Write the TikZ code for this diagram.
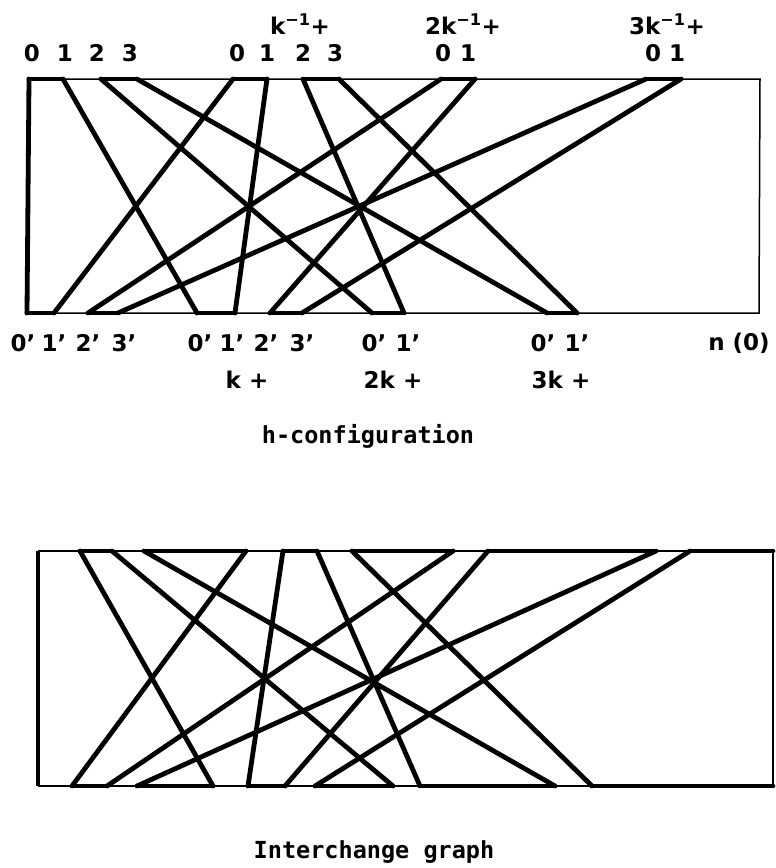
\documentclass[tikz,border=0pt]{standalone}
\usepackage{fontspec}
\setmainfont{DejaVu Sans}
\newfontfamily\capfont{DejaVu Sans Mono}
\begin{document}
\begin{tikzpicture}[x=1pt,y=-1pt,
  frame/.style={line width=1.5pt, line join=miter},
  bar/.style={line width=4.8pt, line cap=round, line join=round},
  lab/.style={font=\bfseries\fontsize{23}{25}\selectfont, inner sep=0pt},
  capt/.style={font=\capfont\bfseries\fontsize{23.5}{26}\selectfont, inner sep=0pt}]
\useasboundingbox (0,0) rectangle (776,868);
% ---------- h-configuration ----------
\foreach \n/\x in {a0/29,a1/63,a2/101,a3/137,b0/233,b1/267,b2/303,b3/339,c0/441,c1/475,d0/646,d1/681}
  \coordinate (T\n) at (\x,79);
\foreach \n/\x in {a0/27,a1/54,a2/88,a3/118,b0/197,b1/235,b2/270,b3/302,c0/372,c1/404,d0/547,d1/577}
  \coordinate (B\n) at (\x,313);
\coordinate (TR) at (760,79);
\coordinate (BR) at (759,313);
\draw[frame] (Ta0) -- (TR) -- (BR) -- (Ba0);
\draw[bar] (Ta0) -- (Ba0);
\foreach \p in {a,b}{
  \draw[bar] (T\p0) -- (T\p1); \draw[bar] (T\p2) -- (T\p3);
  \draw[bar] (B\p0) -- (B\p1); \draw[bar] (B\p2) -- (B\p3);}
\foreach \p in {c,d}{
  \draw[bar] (T\p0) -- (T\p1); \draw[bar] (B\p0) -- (B\p1);}
\foreach \s/\e in {Ta1/Bb0,Ta2/Bc0,Ta3/Bd0,Tb0/Ba1,Tb1/Bb1,Tb2/Bc1,Tb3/Bd1,Tc0/Ba2,Tc1/Bb2,Td0/Ba3,Td1/Bb3}
  \draw[bar] (\s) -- (\e);
% labels
\foreach \n/\x/\t in {la0/32/0,la1/65/1,la2/97/2,la3/130/3,lb0/237/0,lb1/267/1,lb2/303/2,lb3/335/3,lc0/443/0,lc1/468/1,ld0/653/0,ld1/677/1}
  \node[lab] (\n) at (\x,53) {\t};
\node[lab] (kb) at (300,24) {k\textsuperscript{−1}+};
\node[lab] (kc) at (463,24) {2k\textsuperscript{−1}+};
\node[lab] (kd) at (667,24) {3k\textsuperscript{−1}+};
\foreach \n/\x/\t in {ma0/23/0,ma1/54/1,ma2/88/2,ma3/124/3,mb0/200/0,mb1/232/1,mb2/266/2,mb3/302/3,mc0/374/0,mc1/408/1,md0/543/0,md1/577/1}
  \node[lab] (\n) at (\x,343) {\t’};
\node[lab] (nO) at (739,343) {n (0)};
\node[lab] (kk) at (247,380) {k +};
\node[lab] (k2) at (393,380) {2k +};
\node[lab] (k3) at (561,380) {3k +};
\node[capt] (cap1) at (368,436) {h-configuration};
% ---------- Interchange graph ----------
\foreach \n/\x in {1/80,2/112,3/144,4/246,5/283,6/317,7/352,8/453,9/488,10/656,11/690,12/773}
  \coordinate (U\n) at (\x,551);
\foreach \n/\x in {1/72,2/107,3/137,4/213,5/248,6/285,7/315,8/393,9/420,10/555,11/592,12/773}
  \coordinate (V\n) at (\x,786);
\coordinate (UL) at (38,551);
\coordinate (VL) at (38,786);
\draw[frame] (UL) -- (U12) -- (V12) -- (VL);
\draw[line width=3.5pt] (UL) -- (VL);
\foreach \a/\b in {1/2,3/4,5/6,7/8,9/10,11/12}{
  \draw[bar] (U\a) -- (U\b); \draw[bar] (V\a) -- (V\b);}
\foreach \s/\e in {1/4,2/8,3/10,4/1,5/5,6/9,7/11,8/2,9/6,10/3,11/7}
  \draw[bar] (U\s) -- (V\e);
\node[capt] (cap2) at (374,852) {Interchange graph};
\end{tikzpicture}
\end{document}
